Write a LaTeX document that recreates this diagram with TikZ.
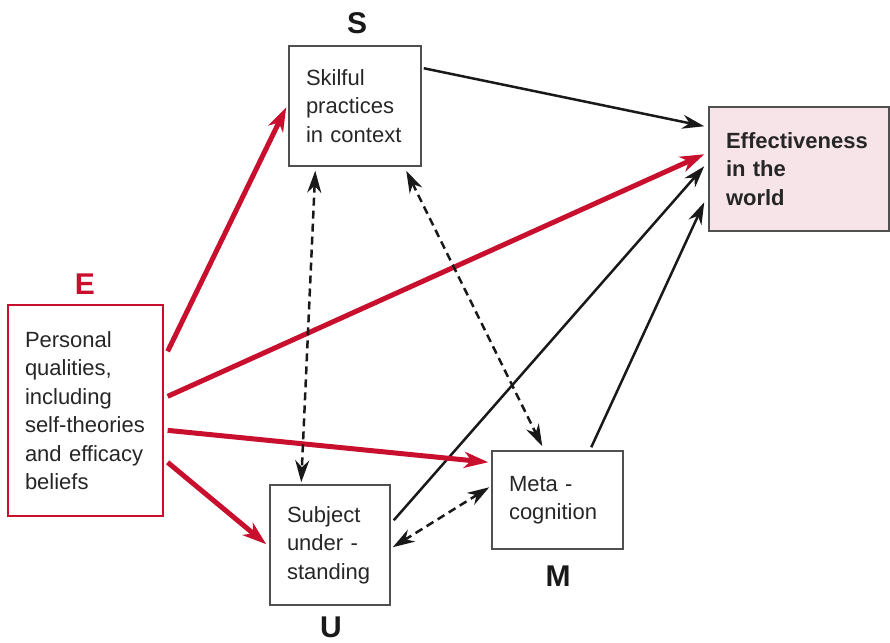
\documentclass[tikz,border=0pt]{standalone}
\usepackage{fontspec}
\setmainfont{Liberation Sans}
\usetikzlibrary{arrows.meta}
\definecolor{cred}{HTML}{C8102E}
\definecolor{cpink}{HTML}{F7E4E9}
\definecolor{cgray}{HTML}{505050}
\begin{document}
\begin{tikzpicture}[x=1pt,y=-1pt,
  box/.style={draw=cgray,line width=1.5pt,inner xsep=17pt,inner ysep=0pt,align=left,
    font=\fontsize{22}{28.5}\selectfont,text=black!85},
  lab/.style={font=\fontsize{30}{30}\selectfont\bfseries,text=black!90},
  blk/.style={line width=2.5pt,black!90,-{Stealth[length=22pt,width=14pt,inset=7pt]}},
  red/.style={line width=5pt,cred,-{Stealth[length=24pt,width=16pt,inset=7pt]}},
  dsh/.style={line width=2.5pt,black!90,dash pattern=on 8pt off 5pt,
    {Stealth[length=22pt,width=14pt,inset=7pt]}-{Stealth[length=22pt,width=14pt,inset=7pt]}}]
\useasboundingbox (0,0) rectangle (890,642);
% boxes
\node[box,minimum height=120pt,text width=98pt] (S) at (355,106) {Skilful\\practices\\in context};
\node[box,minimum height=124pt,text width=146pt,fill=cpink,font=\fontsize{22}{28.5}\selectfont\bfseries] (W) at (799,169) {Effectiveness\\in the\\world};
\node[box,draw=cred,line width=1.3pt,minimum height=211pt,text width=121pt] (E) at (85.5,410.5) {Personal\\qualities,\\including\\self-theories\\and efficacy\\beliefs};
\node[box,minimum height=120pt,text width=86pt] (U) at (330,545) {Subject\\under -\\standing};
\node[box,minimum height=98pt,text width=97pt] (M) at (557.5,500) {Meta -\\cognition};
% labels
\node[lab] (Sl) at (357,23) {S};
\node[lab,text=cred] (El) at (85,284) {E};
\node[lab] (Ul) at (331,627) {U};
\node[lab] (Ml) at (558,576) {M};
% black arrows
\draw[blk] ([shift={(2,23)}]S.north east) -- ([shift={(-4,20)}]W.north west);
\draw[blk] ([shift={(3,36)}]U.north east) -- ([shift={(-4,60)}]W.north west);
\draw[blk] ([shift={(100,-3)}]M.north west) -- ([shift={(-4,96)}]W.north west);
% red arrows
\draw[red] ([shift={(4,47)}]E.north east) -- ([shift={(-2,62)}]S.north west);
\draw[red] ([shift={(4,92)}]E.north east) -- ([shift={(-4,48)}]W.north west);
\draw[red] ([shift={(4,126)}]E.north east) -- ([shift={(-3,12)}]M.north west);
\draw[red] ([shift={(4,158)}]E.north east) -- ([shift={(-3,60)}]U.north west);
% dashed double arrows
\draw[dsh] ([shift={(27,4)}]S.south west) -- ([shift={(32,-2)}]U.north west);
\draw[dsh] ([shift={(118,4)}]S.south west) -- ([shift={(51,-4)}]M.north west);
\draw[dsh] ([shift={(2,63)}]U.north east) -- ([shift={(-2,37)}]M.north west);
\end{tikzpicture}
\end{document}
